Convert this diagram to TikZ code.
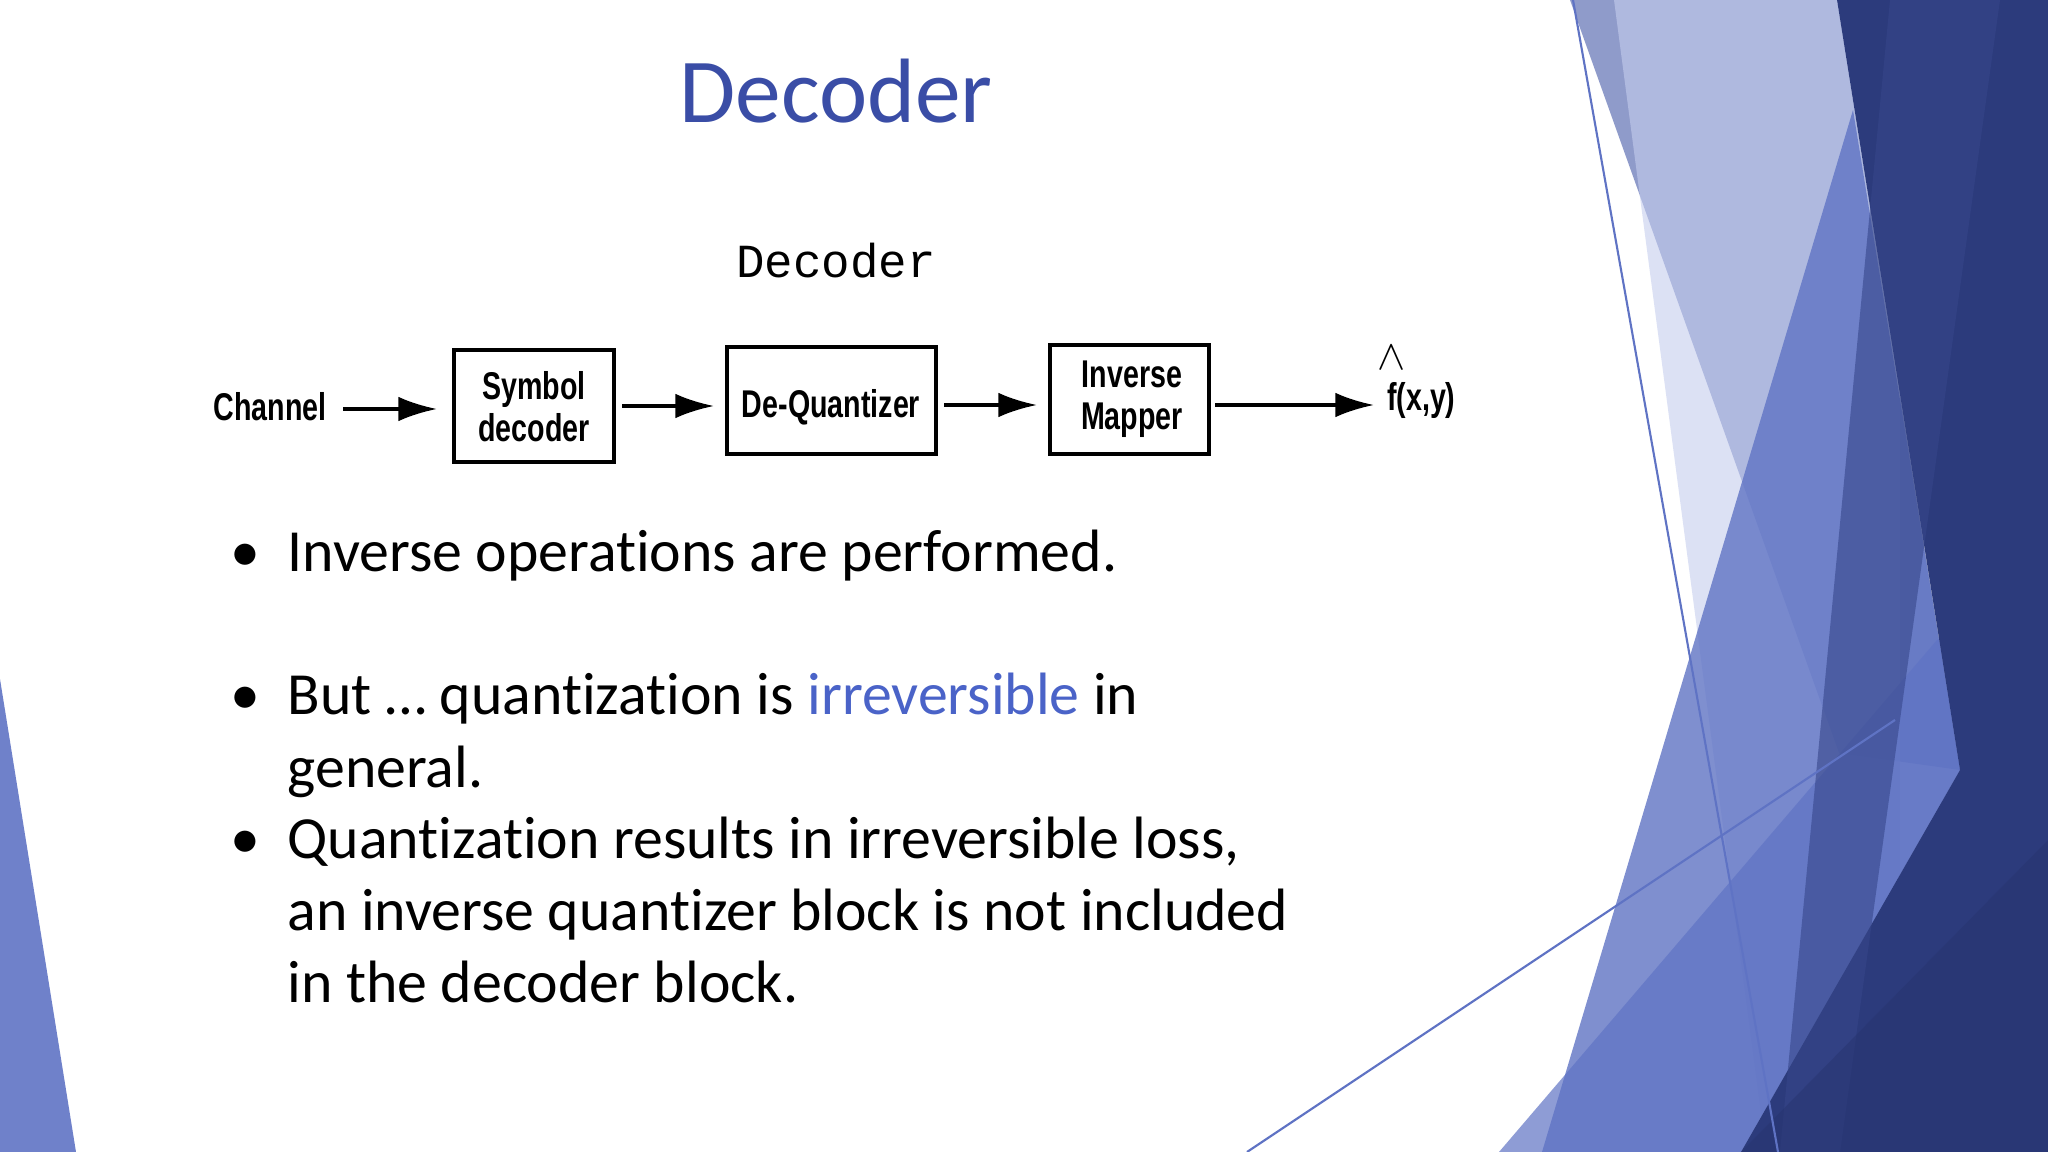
\documentclass[tikz,border=0pt]{standalone}
\usepackage{fontspec}
\setmainfont{Carlito}[Ligatures=NoCommon]
\newfontfamily\arialf{Liberation Sans}
\newfontfamily\monof{Liberation Mono}
\usetikzlibrary{arrows.meta}
\definecolor{titleblue}{HTML}{3A4DA6}
\definecolor{irrblue}{HTML}{4A63C8}
\definecolor{navy}{HTML}{2C3B7C}
\definecolor{midblue}{HTML}{5F73C4}
\definecolor{lavender}{HTML}{8A96C8}
\definecolor{paleblue}{HTML}{C5CDEE}
\begin{document}
\begin{tikzpicture}[x=0.01cm,y=-0.01cm,
  lbl/.style={font=\arialf\bfseries\fontsize{11pt}{12pt}\selectfont,xscale=0.74,align=center,inner sep=1pt},
  arr/.style={line width=1pt,-{Latex[length=11pt,width=7pt]}},
  bul/.style={anchor=base west,font=\fontsize{17pt}{21pt}\selectfont,inner sep=0pt}]
\useasboundingbox (0,0) rectangle (2048,1152);
\fill[white] (0,0) rectangle (2048,1152);
% decoration
\fill[lavender,opacity=0.95] (1570,0) -- (1837,0) -- (1960,770) -- (1839,753) -- cycle;
\fill[paleblue,opacity=0.6] (1614,0) -- (1900,0) -- (1900,1152) -- (1766,1152) -- cycle;
\fill[midblue,opacity=0.8] (1853,110) -- (1960,770) -- (1741,1152) -- (1542,1152) -- cycle;
\fill[midblue,opacity=0.7] (1499,1152) -- (1937,640) -- (2048,600) -- (2048,1152) -- cycle;
\fill[navy] (1837,0) -- (2048,0) -- (2048,1152) -- (1741,1152) -- (1960,770) -- cycle;
\fill[navy!80!midblue,opacity=0.6] (1890,0) -- (2000,0) -- (1840,1152) -- (1780,1152) -- cycle;
\fill[navy!90!black,opacity=0.5] (1741,1152) -- (2048,840) -- (2048,1152) -- cycle;
\draw[midblue,line width=0.6pt] (1573,0) -- (1778,1152);
\draw[midblue,line width=0.6pt] (1247,1152) -- (1895,720);
\fill[midblue!90] (0,679) -- (76,1152) -- (0,1152) -- cycle;
% title
\node[text=titleblue,font=\fontsize{26pt}{30pt}\selectfont] (title) at (836,91) {Decoder};
\node[font=\monof\fontsize{13.5pt}{16pt}\selectfont] (sub) at (836,261) {Decoder};
% diagram
\node[lbl] (ch) at (270,407) {Channel};
\draw[line width=1.2pt] (454,350) rectangle (614,462);
\node[lbl] (sdt) at (534,407) {Symbol\\[0pt]decoder};
\draw[line width=1.2pt] (727,347) rectangle (936,454);
\node[lbl] (dqt) at (831,407) {De-Quantizer};
\draw[line width=1.2pt] (1050,345) rectangle (1209,454);
\node[lbl] (imt) at (1132,399) {Inverse\\[0pt]Mapper};
\node[lbl,anchor=west] (f) at (1384,401) {f(x,y)};
\node[font=\arialf\fontsize{13pt}{13pt}\selectfont,inner sep=0pt] (hat) at (1392,358) {$\wedge$};
\coordinate (a1) at (343,409); \coordinate (a2) at (437,409);
\coordinate (b1) at (622,406); \coordinate (b2) at (714,406);
\coordinate (c1) at (944,405); \coordinate (c2) at (1037,405);
\coordinate (d1) at (1215,405); \coordinate (d2) at (1374,405);
\draw[arr] (a1) -- (a2);
\draw[arr] (b1) -- (b2);
\draw[arr] (c1) -- (c2);
\draw[arr] (d1) -- (d2);
% bullets
\foreach \yy in {571,715,858} \node[bul] at (230,\yy) {•};
\node[bul] (l1) at (287,571) {Inverse operations are performed.};
\node[bul] (l2) at (287,715) {But … quantization is \textcolor{irrblue}{irreversible} in};
\node[bul] (l3) at (287,787) {general.};
\node[bul] (l4) at (287,858) {Quantization results in irreversible loss,};
\node[bul] (l5) at (287,930) {an inverse quantizer block is not included};
\node[bul] (l6) at (287,1002) {in the decoder block.};
\end{tikzpicture}
\end{document}
